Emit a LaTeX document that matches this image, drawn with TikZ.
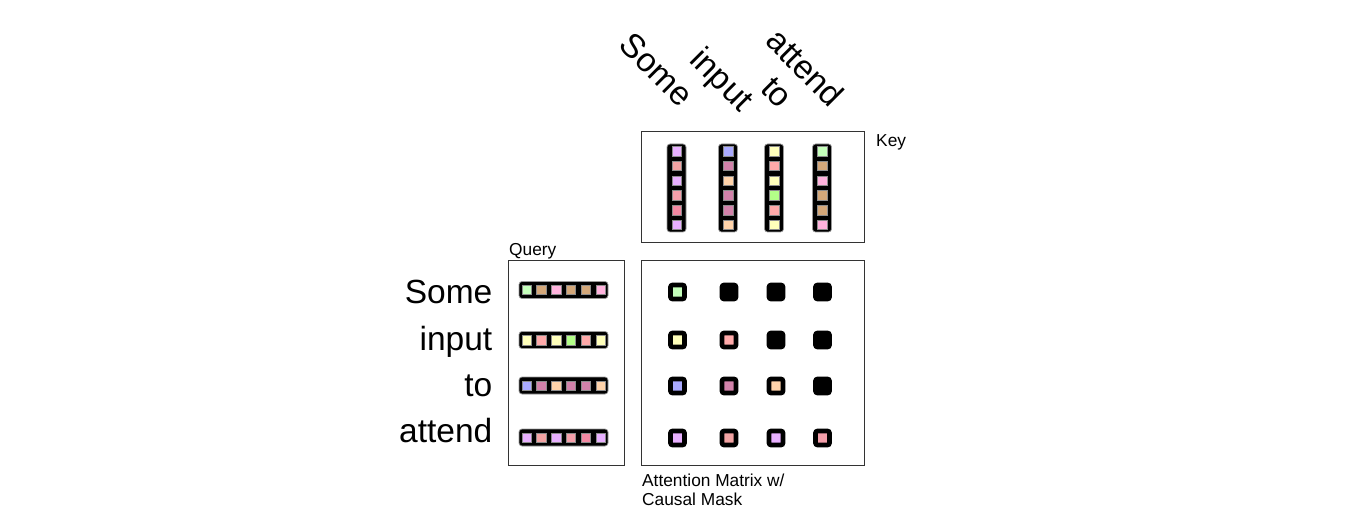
\documentclass[tikz,border=0pt]{standalone}
\usepackage{fontspec}
\setmainfont{Liberation Sans}
\definecolor{vio}{HTML}{E8B0FF}
\definecolor{sal}{HTML}{F2A3A3}
\definecolor{pkA}{HTML}{F49FAA}
\definecolor{pkB}{HTML}{F288A2}
\definecolor{blu}{HTML}{AAAAFF}
\definecolor{mau}{HTML}{D282AA}
\definecolor{pch}{HTML}{FFD3AA}
\definecolor{yel}{HTML}{FFFFBB}
\definecolor{red}{HTML}{FFAAAA}
\definecolor{grn}{HTML}{B3FF88}
\definecolor{lgr}{HTML}{C5FFBB}
\definecolor{tan}{HTML}{D4A87A}
\definecolor{pnk}{HTML}{FFB3DD}
\begin{document}
\begin{tikzpicture}[x=1pt,y=-1pt,
  frame/.style={draw=black!80, line width=1.3pt, fill=none, inner sep=0, anchor=north west},
  bar/.style={fill=black, draw=black!40, line width=0.7pt, rounded corners=3pt, inner sep=0},
  cellsq/.style={minimum size=9.4pt, inner sep=0, draw=black!45, line width=0.4pt},
  mcell/.style={minimum size=14pt, inner sep=0, draw=black, line width=4.6pt, rounded corners=2pt},
  big/.style={font=\fontsize{33.5}{40}\selectfont, inner sep=0},
  small/.style={font=\fontsize{17.3}{20}\selectfont, inner sep=0, anchor=base west},
]
\useasboundingbox (0,0) rectangle (1364,526);
% frames
\node[frame, minimum width=223pt, minimum height=111pt] (keybox) at (641,131) {};
\node[frame, minimum width=116pt, minimum height=205pt] (qbox) at (508,260) {};
\node[frame, minimum width=223pt, minimum height=205pt] (mbox) at (641,260) {};
% small labels
\node[small] (keylbl) at (876,146.7) {Key};
\node[small] (qlbl) at (509,255.3) {Query};
\node[small] (mlblA) at (642,486) {Attention Matrix w/};
\node[small] (mlblB) at (642,505.3) {Causal Mask};
% left labels
\node[big, anchor=base east] (l1) at (492.5,304) {Some};
\node[big, anchor=base east] (l2) at (492.5,350) {input};
\node[big, anchor=base east] (l3) at (492.5,396) {to};
\node[big, anchor=base east] (l4) at (492.5,442) {attend};
% rotated labels
\node[big, rotate=-45, anchor=base east] (t1) at (680,109) {Some};
\node[big, rotate=-45, anchor=base east] (t2) at (740,113) {input};
\node[big, rotate=-45, anchor=base east] (t3) at (779,110) {to};
\node[big, rotate=-45, anchor=base east] (t4) at (830,109) {attend};
% key columns
\foreach \x/\cols [count=\i] in {676.5/{vio,sal,vio,pkA,pkB,vio},728/{blu,mau,pch,mau,mau,pch},774/{yel,red,yel,grn,red,yel},822/{lgr,tan,pnk,tan,tan,pnk}}{
  \node[bar, minimum width=19pt, minimum height=88pt] (k\i) at (\x,188) {};
  \foreach \c [count=\j] in \cols
    \node[cellsq, fill=\c] (k\i c\j) at (\x,{144+14.667*\j-7.333}) {};
}
% query rows
\foreach \y/\cols [count=\i] in {290/{lgr,tan,pnk,tan,tan,pnk},340/{yel,red,yel,grn,red,yel},385.5/{blu,mau,pch,mau,mau,pch},437.5/{vio,sal,vio,pkA,pkB,vio}}{
  \node[bar, minimum width=89pt, minimum height=17pt] (q\i) at (563.5,\y) {};
  \foreach \c [count=\j] in \cols
    \node[cellsq, fill=\c] (q\i c\j) at ({519+14.833*\j-7.417},\y) {};
}
% attention matrix
\foreach \c [count=\j, evaluate=\j as \x using {\j==1?677.5:(\j==2?729:(\j==3?776:822.5))}] in {lgr,black,black,black}
  \node[mcell, fill=\c] (m1\j) at (\x,292) {};
\foreach \c [count=\j, evaluate=\j as \x using {\j==1?677.5:(\j==2?729:(\j==3?776:822.5))}] in {yel,red,black,black}
  \node[mcell, fill=\c] (m2\j) at (\x,340) {};
\foreach \c [count=\j, evaluate=\j as \x using {\j==1?677.5:(\j==2?729:(\j==3?776:822.5))}] in {blu,mau,pch,black}
  \node[mcell, fill=\c] (m3\j) at (\x,386) {};
\foreach \c [count=\j, evaluate=\j as \x using {\j==1?677.5:(\j==2?729:(\j==3?776:822.5))}] in {vio,sal,vio,pkA}
  \node[mcell, fill=\c] (m4\j) at (\x,438) {};
\end{tikzpicture}
\end{document}
